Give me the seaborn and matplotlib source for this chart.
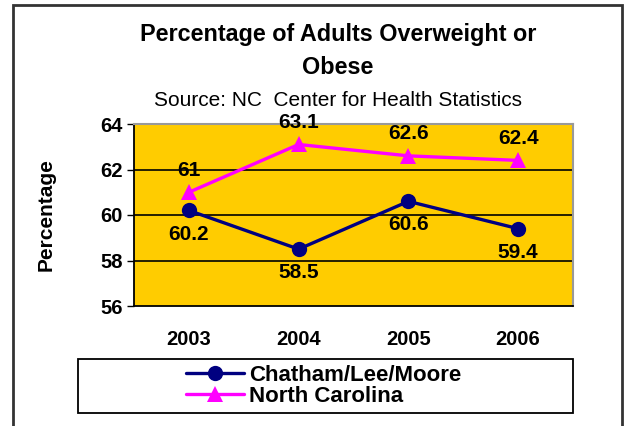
import pandas as pd
import seaborn as sns
import matplotlib.pyplot as plt
from matplotlib.patches import Rectangle

# values
years = ["2003", "2004", "2005", "2006"]
chatham = [60.2, 58.5, 60.6, 59.4]
north_carolina = [61.0, 63.1, 62.6, 62.4]
chatham_labels = ["60.2", "58.5", "60.6", "59.4"]
nc_labels = ["61", "63.1", "62.6", "62.4"]

df = pd.DataFrame({
    "Year": years * 2,
    "Percentage": chatham + north_carolina,
    "Region": ["Chatham/Lee/Moore"] * 4 + ["North Carolina"] * 4,
})

sns.set_style("white")
plt.rcParams["font.family"] = ["Liberation Sans", "DejaVu Sans"]
plt.rcParams["text.color"] = "black"
plt.rcParams["axes.labelcolor"] = "black"
plt.rcParams["xtick.color"] = "black"
plt.rcParams["ytick.color"] = "black"

fig = plt.figure(figsize=(6.29, 4.26), dpi=100)
ax = fig.add_axes([134 / 629, 1 - 306 / 426, 439 / 629, 182 / 426])
ax.set_facecolor("#FFCC00")

palette = {"Chatham/Lee/Moore": "#000080", "North Carolina": "#FF00FF"}
markers = {"Chatham/Lee/Moore": "o", "North Carolina": "^"}
sns.lineplot(data=df, x="Year", y="Percentage", hue="Region", style="Region",
             palette=palette, markers=markers, dashes=False, linewidth=2.4,
             markersize=11, markeredgewidth=0, ax=ax, legend=True)

# data labels
for i, lab in enumerate(chatham_labels):
    ax.annotate(lab, (i, chatham[i]), xytext=(0, -17), textcoords="offset points",
                ha="center", va="center", fontsize=15, fontweight="bold")
for i, lab in enumerate(nc_labels):
    ax.annotate(lab, (i, north_carolina[i]), xytext=(0, 16), textcoords="offset points",
                ha="center", va="center", fontsize=15, fontweight="bold")

ax.set_ylim(56, 64)
ax.set_xlim(-0.5, 3.5)
ax.set_yticks([56, 58, 60, 62, 64])
ax.set_yticklabels(["56", "58", "60", "62", "64"], fontsize=14.5, fontweight="bold")
ax.set_xticks([0, 1, 2, 3])
ax.set_xticklabels(years, fontsize=14.5, fontweight="bold")
ax.set_xticks([-0.5, 0.5, 1.5, 2.5, 3.5], minor=True)
ax.tick_params(axis="x", which="major", length=0, pad=17)
ax.tick_params(axis="x", which="minor", length=5, width=1, color="black", direction="out")
ax.tick_params(axis="y", length=5, width=1, color="black", direction="out", left=True, pad=3)
for y in [58, 60, 62]:
    ax.axhline(y, color="black", linewidth=1.2, zorder=0.5)

ax.spines["left"].set_color("black")
ax.spines["bottom"].set_color("black")
ax.spines["left"].set_linewidth(1.3)
ax.spines["bottom"].set_linewidth(1.3)
ax.spines["top"].set_color("#999999")
ax.spines["right"].set_color("#999999")
ax.spines["top"].set_linewidth(1.5)
ax.spines["right"].set_linewidth(1.5)

ax.set_xlabel("")
ax.set_ylabel("Percentage", fontsize=15, fontweight="bold")
ax.yaxis.set_label_coords(-0.178, 0.5)

fig.text(0.537, 1 - 34 / 426, "Percentage of Adults Overweight or", ha="center", va="center",
         fontsize=16.8, fontweight="bold")
fig.text(0.537, 1 - 67 / 426, "Obese", ha="center", va="center",
         fontsize=16.8, fontweight="bold")
fig.text(0.537, 1 - 101 / 426, "Source: NC  Center for Health Statistics", ha="center",
         va="center", fontsize=15)

# legend box and legend
fig.patches.append(Rectangle((78 / 629, 1 - 413 / 426), 495 / 629, 54 / 426,
                             transform=fig.transFigure, fill=False, edgecolor="black",
                             linewidth=1.3))
handles, labels = ax.get_legend_handles_labels()
ax.legend(handles, labels, loc="center left", bbox_to_anchor=(186 / 629, 1 - 386 / 426),
          bbox_transform=fig.transFigure, frameon=False,
          prop={"weight": "bold", "size": 16}, handlelength=2.6, handletextpad=0.22,
          labelspacing=0.0, borderpad=0, borderaxespad=0)

# outer border
fig.patches.append(Rectangle((13 / 629, -0.05), 609 / 629, 1.05 - 5 / 426,
                             transform=fig.transFigure, fill=False, edgecolor="#333333",
                             linewidth=2))

fig.savefig("out.png", dpi=100)
